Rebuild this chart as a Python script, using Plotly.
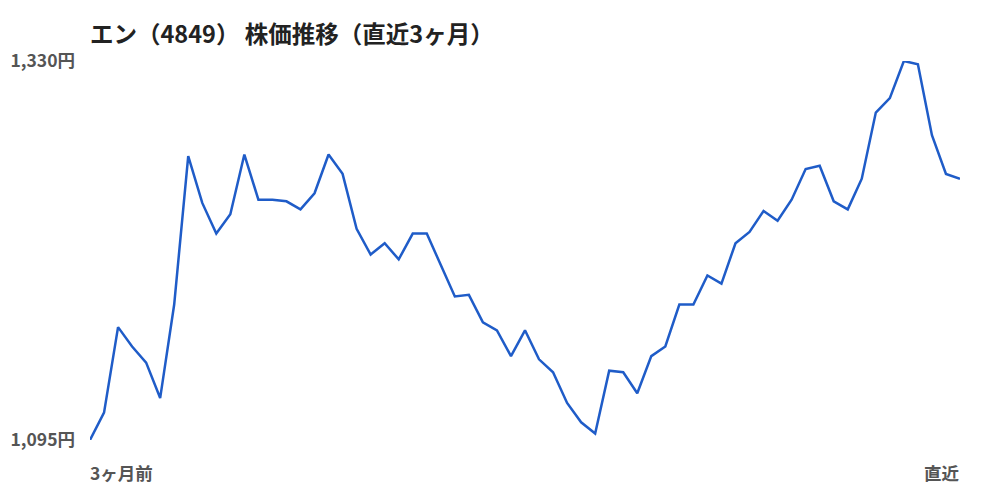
import plotly.graph_objects as go

# 直近3ヶ月の終値（円）
prices = [1095, 1112, 1165, 1153, 1143, 1121, 1179, 1271, 1242, 1223,
          1235, 1272, 1244, 1244, 1243, 1238, 1248, 1272, 1260, 1226,
          1210, 1217, 1207, 1223, 1223, 1204, 1184, 1185, 1168, 1163,
          1147, 1163, 1145, 1137, 1118, 1106, 1099, 1138, 1137, 1124,
          1147, 1153, 1179, 1179, 1197, 1192, 1217, 1224, 1237, 1231,
          1244, 1263, 1265, 1243, 1238, 1257, 1298, 1307, 1330, 1328,
          1284, 1260, 1257]
days = list(range(len(prices)))

y_ticks = [min(prices), max(prices)]
y_ticktext = [f"{v:,}円" for v in y_ticks]
x_labels = ["3ヶ月前", "直近"]

title = "エン（4849） 株価推移（直近3ヶ月）"
font_family = "Noto Sans CJK JP"

# ページ本体の余白 8px を差し引いたサイズ
W, H = 992, 492

fig = go.Figure()
fig.add_trace(go.Scatter(
    x=days, y=prices, mode="lines",
    line=dict(color="#1f5cc8", width=2.5),
    hoverinfo="skip"
))

fig.update_layout(
    width=W, height=H,
    paper_bgcolor="white", plot_bgcolor="white",
    margin=dict(l=82, r=40, t=53, b=60),
    showlegend=False,
    font=dict(family=font_family, color="#555555"),
    title=dict(text="<b>" + title + "</b>", x=82/W, xanchor="left",
               y=1 - 27/H, yanchor="middle",
               font=dict(size=23.5, color="#222222", family=font_family)),
)
fig.update_xaxes(range=[0, len(prices) - 1], showgrid=False, zeroline=False,
                 showticklabels=False, showline=False, automargin=False)
fig.update_yaxes(range=[y_ticks[0], y_ticks[1]], showgrid=False, zeroline=False,
                 showline=False, tickvals=y_ticks, automargin=False,
                 ticktext=["<b>" + t + "</b>" for t in y_ticktext],
                 tickfont=dict(size=17.5, color="#555555"), ticks="", ticklabelstandoff=14)

# 期間ラベル（左端・右端に揃える）
fig.add_annotation(x=0, xref="paper", y=-18/377, yref="paper", yanchor="top",
                   xanchor="left", text="<b>" + x_labels[0] + "</b>", showarrow=False,
                   font=dict(size=17.5, color="#555555"), xshift=-2)
fig.add_annotation(x=1, xref="paper", y=-18/377, yref="paper", yanchor="top",
                   xanchor="right", text="<b>" + x_labels[1] + "</b>", showarrow=False,
                   font=dict(size=17.5, color="#555555"), xshift=2)

fig.write_html("out.html")
